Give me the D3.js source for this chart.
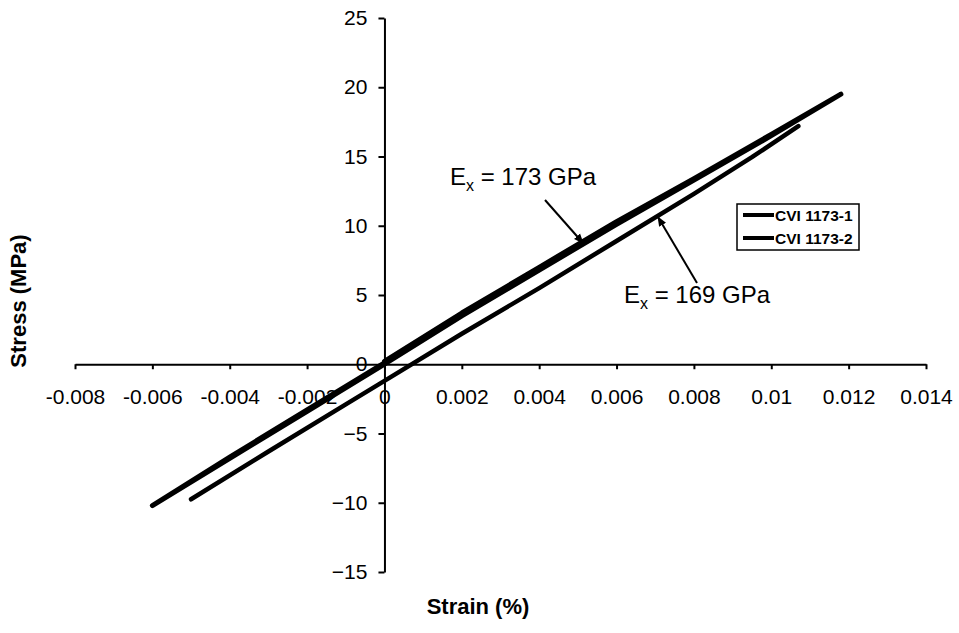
<!DOCTYPE html>
<html>
<head>
<meta charset="utf-8">
<script src="https://cdn.jsdelivr.net/npm/d3@7"></script>
<style>
  body { margin: 0; background: #fff; }
  svg text { font-family: "Liberation Sans", Arial, sans-serif; fill: #000; }
</style>
</head>
<body>
<div id="chart"></div>
<script>
// tick values and labels
const xTicks = [-0.008, -0.006, -0.004, -0.002, 0, 0.002, 0.004, 0.006, 0.008, 0.01, 0.012, 0.014];
const xTickLabels = ['-0.008', '-0.006', '-0.004', '-0.002', '0', '0.002', '0.004', '0.006', '0.008', '0.01', '0.012', '0.014'];
const yTicks = [-15, -10, -5, 0, 5, 10, 15, 20, 25];

// CVI 1173-1 : load to tension, unload into compression, reload (strain %, stress MPa)
const strain1 = [0, 0.002, 0.004, 0.006, 0.008, 0.010, 0.0118, 0.010, 0.008, 0.006, 0.004, 0.002, 0, -0.002, -0.004, -0.006, -0.004, -0.002, 0];
const stress1 = [0.2, 3.7, 7.0, 10.3, 13.4, 16.6, 19.5, 16.5, 13.3, 10.1, 6.8, 3.5, 0.0, -3.4, -6.8, -10.2, -6.7, -3.3, 0.1];

// CVI 1173-2
const strain2 = [-0.005, -0.003, -0.001, 0, 0.002, 0.004, 0.006, 0.008, 0.0095, 0.0107];
const stress2 = [-9.75, -6.3, -2.9, -1.2, 2.2, 5.5, 8.9, 12.3, 14.95, 17.2];

const seriesNames = ['CVI 1173-1', 'CVI 1173-2'];

const width = 959, height = 633;

const svg = d3.select('#chart').append('svg')
              .attr('width', width)
              .attr('height', height);

const x = d3.scaleLinear().domain([-0.008, 0.014]).range([75, 926]);
const y = d3.scaleLinear().domain([-15, 25]).range([572, 18]);

svg.append('defs').append('marker')
   .attr('id', 'arrow')
   .attr('viewBox', '0 0 10 10')
   .attr('refX', 9).attr('refY', 5)
   .attr('markerWidth', 10).attr('markerHeight', 10)
   .attr('markerUnits', 'userSpaceOnUse')
   .attr('orient', 'auto')
   .append('path')
   .attr('d', 'M0,1 L10,5 L0,9 Z')
   .attr('fill', '#000');

// axes crossing at the origin
const xAxis = svg.append('g')
                 .attr('transform', 'translate(0,' + y(0) + ')')
                 .call(d3.axisBottom(x)
                         .tickValues(xTicks)
                         .tickFormat((d, i) => xTickLabels[i])
                         .tickSize(5)
                         .tickSizeOuter(0)
                         .tickPadding(20));

const yAxis = svg.append('g')
                 .attr('transform', 'translate(' + x(0) + ',0)')
                 .call(d3.axisLeft(y)
                         .tickValues(yTicks)
                         .tickSize(6)
                         .tickSizeOuter(0)
                         .tickPadding(11));

[xAxis, yAxis].forEach(g => {
  g.selectAll('path, line').attr('stroke', '#000').attr('stroke-width', 2);
  g.selectAll('text').style('font-size', '21px').attr('fill', '#000');
});

// curves
const line = d3.line().x(d => x(d[0])).y(d => y(d[1]));
const series = [
  { name: seriesNames[0], values: strain1.map((s, i) => [s, stress1[i]]), width: 5 },
  { name: seriesNames[1], values: strain2.map((s, i) => [s, stress2[i]]), width: 4.5 }
];

svg.selectAll('path.curve')
   .data(series)
   .enter()
   .append('path')
   .attr('class', 'curve')
   .attr('d', d => line(d.values))
   .attr('fill', 'none')
   .attr('stroke', '#000')
   .attr('stroke-width', d => d.width)
   .attr('stroke-linejoin', 'round')
   .attr('stroke-linecap', 'round');

// axis titles
svg.append('text')
   .attr('x', 478).attr('y', 614)
   .attr('text-anchor', 'middle')
   .style('font-size', '22px').style('font-weight', 'bold')
   .text('Strain (%)');

svg.append('text')
   .attr('transform', 'translate(26,301) rotate(-90)')
   .attr('text-anchor', 'middle')
   .style('font-size', '22px').style('font-weight', 'bold')
   .text('Stress (MPa)');

// modulus annotations
function label(px, py, value) {
  const t = svg.append('text').attr('x', px).attr('y', py).style('font-size', '24px');
  t.append('tspan').text('E');
  t.append('tspan').attr('dy', 6).style('font-size', '16px').text('x');
  t.append('tspan').attr('dy', -6).text(' = ' + value + ' GPa');
}
label(450, 185, 173);
label(624, 303, 169);

svg.append('line')
   .attr('x1', 545).attr('y1', 200).attr('x2', 583).attr('y2', 243)
   .attr('stroke', '#000').attr('stroke-width', 2)
   .attr('marker-end', 'url(#arrow)');

svg.append('line')
   .attr('x1', 697).attr('y1', 283).attr('x2', 658).attr('y2', 217)
   .attr('stroke', '#000').attr('stroke-width', 2)
   .attr('marker-end', 'url(#arrow)');

// legend
const legend = svg.append('g').attr('transform', 'translate(737,204)');
legend.append('rect')
      .attr('width', 122).attr('height', 46)
      .attr('fill', '#fff').attr('stroke', '#000').attr('stroke-width', 1.5);

const entry = legend.selectAll('g.entry')
                    .data(seriesNames)
                    .enter()
                    .append('g')
                    .attr('class', 'entry')
                    .attr('transform', (d, i) => 'translate(0,' + (11 + i * 23) + ')');

entry.append('line')
     .attr('x1', 6).attr('x2', 37)
     .attr('stroke', '#000').attr('stroke-width', 4);

entry.append('text')
     .attr('x', 38).attr('dy', '0.36em')
     .style('font-size', '15.5px').style('font-weight', 'bold')
     .text(d => d);
</script>
</body>
</html>
